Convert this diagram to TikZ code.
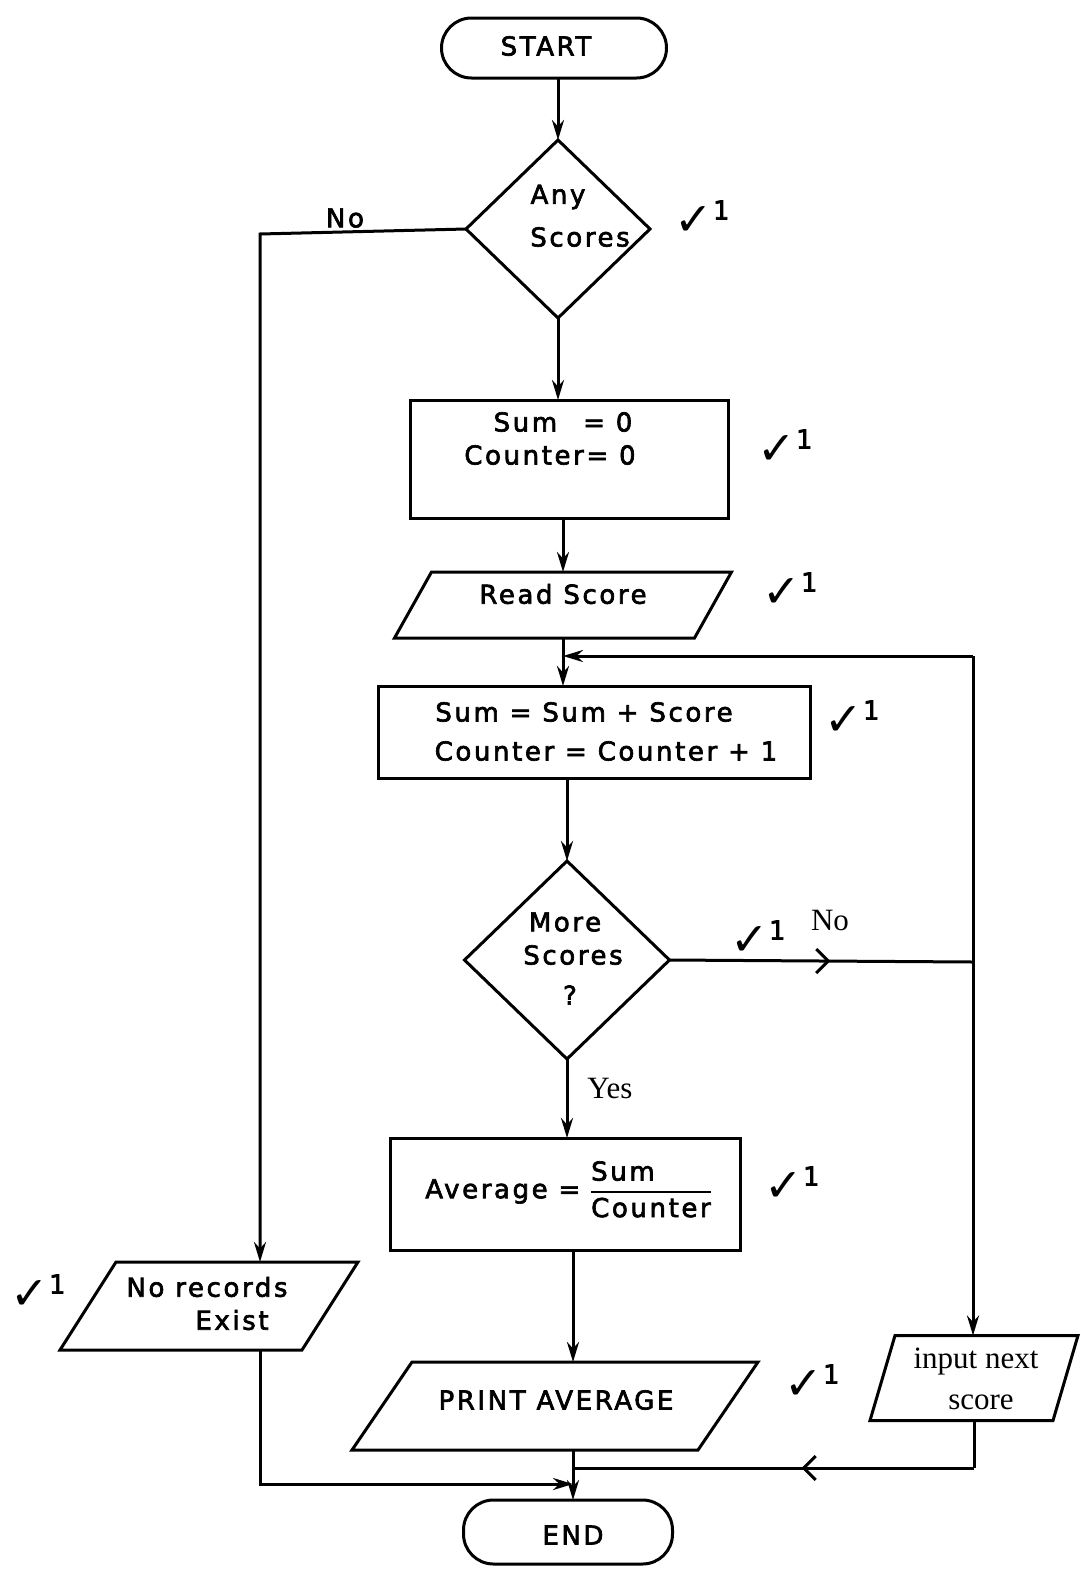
\documentclass[tikz,border=0pt]{standalone}
\usepackage{fontspec}
\usetikzlibrary{shapes.geometric,arrows.meta,decorations.markings}
\newfontfamily\hand[LetterSpace=10,FakeBold=2.5]{DejaVu Sans}
\newfontfamily\tickfont{DejaVu Sans}
\setmainfont{Liberation Serif}
\setlength{\arrayrulewidth}{2.5pt}
\newcommand\paradraw[2]{\draw ([xshift=#2]#1.north west) -- (#1.north east) -- ([xshift=-#2]#1.south east) -- (#1.south west) -- cycle;}
\newcommand\tickone{✓\raisebox{16pt}{\hand\fontsize{26}{26}\selectfont 1}}
\begin{document}
\begin{tikzpicture}[x=1pt,y=-1pt,line width=3pt,
  every node/.style={inner sep=0pt,outer sep=0pt,line width=3pt},
  hw/.style={font=\hand\fontsize{26}{34}\selectfont},
  tw/.style={font=\fontsize{31}{38}\selectfont},
  term/.style={draw,rectangle,rounded corners=30pt},
  proc/.style={draw,rectangle},
  dec/.style={draw,diamond},
  io/.style={rectangle},
  tk/.style={font=\tickfont\fontsize{46}{46}\selectfont},
  arr/.style={-{Stealth[length=20pt,width=12pt]}},
  midarr/.style={postaction={decorate,decoration={markings,
     mark=at position #1 with {\arrow{Straight Barb[length=12pt,width=24pt]}}}}}
]
\useasboundingbox (0,0) rectangle (1081,1569);

% shapes
\node[term,minimum width=225,minimum height=60] (start) at (554,48) {};
\node[dec,minimum width=184,minimum height=178] (d1) at (558,229) {};
\node[proc,minimum width=318,minimum height=118] (box1) at (569,459) {};
\node[io,minimum width=337,minimum height=66] (read) at (563,605) {};
\paradraw{read}{37}
\node[proc,minimum width=432,minimum height=92] (box2) at (594,732) {};
\node[dec,minimum width=205,minimum height=198] (d2) at (567,960) {};
\node[proc,minimum width=350,minimum height=112] (box3) at (565,1194) {};
\node[io,minimum width=406,minimum height=88] (print) at (555,1406) {};
\paradraw{print}{60}
\node[io,minimum width=298,minimum height=88] (nore) at (209,1306) {};
\paradraw{nore}{56}
\node[io,minimum width=208,minimum height=85] (inp) at (974,1378) {};
\paradraw{inp}{25}
\node[term,minimum width=209,minimum height=64] (end) at (568,1532) {};

% texts
\node[hw] (tstart) at (546,46) {START};
\node[hw] (tany) at (558,197) {Any};
\node[hw] (tscores) at (580,237) {Scores};
\node[hw] (tno1) at (345,218) {No};
\node[hw] (tsum0) at (563,422) {Sum\quad= 0};
\node[hw] (tcnt0) at (550,455) {Counter= 0};
\node[hw] (tread) at (563,594) {Read Score};
\node[hw] (tsum1) at (584,712) {Sum = Sum + Score};
\node[hw] (tcnt1) at (606,751) {Counter = Counter + 1};
\node[hw] (tmore) at (565,922) {More};
\node[hw] (tscores2) at (573,955) {Scores};
\node[hw] (tq) at (570,995) {?};
\node[tw] (tyes) at (610,1088) {Yes};
\node[tw] (tno2) at (830,920) {No};
\node[hw] (tavg) at (568,1192) {Average = \begin{tabular}{@{}l@{}}Sum\\\hline Counter\end{tabular}};
\node[hw] (tprint) at (556,1400) {PRINT AVERAGE};
\node[hw] (tnorec) at (207,1287) {No records};
\node[hw] (texist) at (232,1320) {Exist};
\node[tw] (tinp1) at (976,1362) {input next};
\node[tw] (tinp2) at (981,1402) {score};
\node[hw] (tend) at (573,1535) {END};

% ticks
\node[tk] (k1) at (702,218) {\tickone};
\node[tk] (k2) at (785,447) {\tickone};
\node[tk] (k3) at (790,590) {\tickone};
\node[tk] (k4) at (852,718) {\tickone};
\node[tk] (k5) at (758,938) {\tickone};
\node[tk] (k6) at (792,1184) {\tickone};
\node[tk] (k7) at (812,1382) {\tickone};
\node[tk] (k8) at (38,1292) {\tickone};

% helper coordinates
\coordinate (c1) at (260,234);
\coordinate (R1) at (973,656);
\coordinate (R2) at (973,962);
\coordinate (J1) at (573,1468);
\coordinate (J2) at (573,1484);

% connectors
\draw[arr] (start.south -| d1.north) -- (d1.north);
\draw[arr] (d1.west) -- (c1) -- (c1 |- nore.north);
\draw[arr] (d1.south) -- (d1.south |- box1.north);
\draw[arr] (read.north |- box1.south) -- (read.north);
\draw[arr] (read.south) -- (read.south |- box2.north);
\draw[arr] (R1) -- (R1 -| read.south);
\draw[arr] (R1) -- (R1 |- inp.north);
\draw[arr] (d2.north |- box2.south) -- (d2.north);
\draw[midarr=0.53] (d2.east) -- (R2);
\draw[arr] (d2.south) -- (d2.south |- box3.north);
\draw[arr] (J1 |- box3.south) -- (J1 |- print.north);
\draw[arr] (J1 |- print.south) -- (J1 |- end.north);
\draw[arr] (c1 |- nore.south) -- (c1 |- J2) -- (J2);
\draw (inp.south) -- (inp.south |- J1);
\draw[midarr=0.43] (inp.south |- J1) -- (J1);
\end{tikzpicture}
\end{document}
